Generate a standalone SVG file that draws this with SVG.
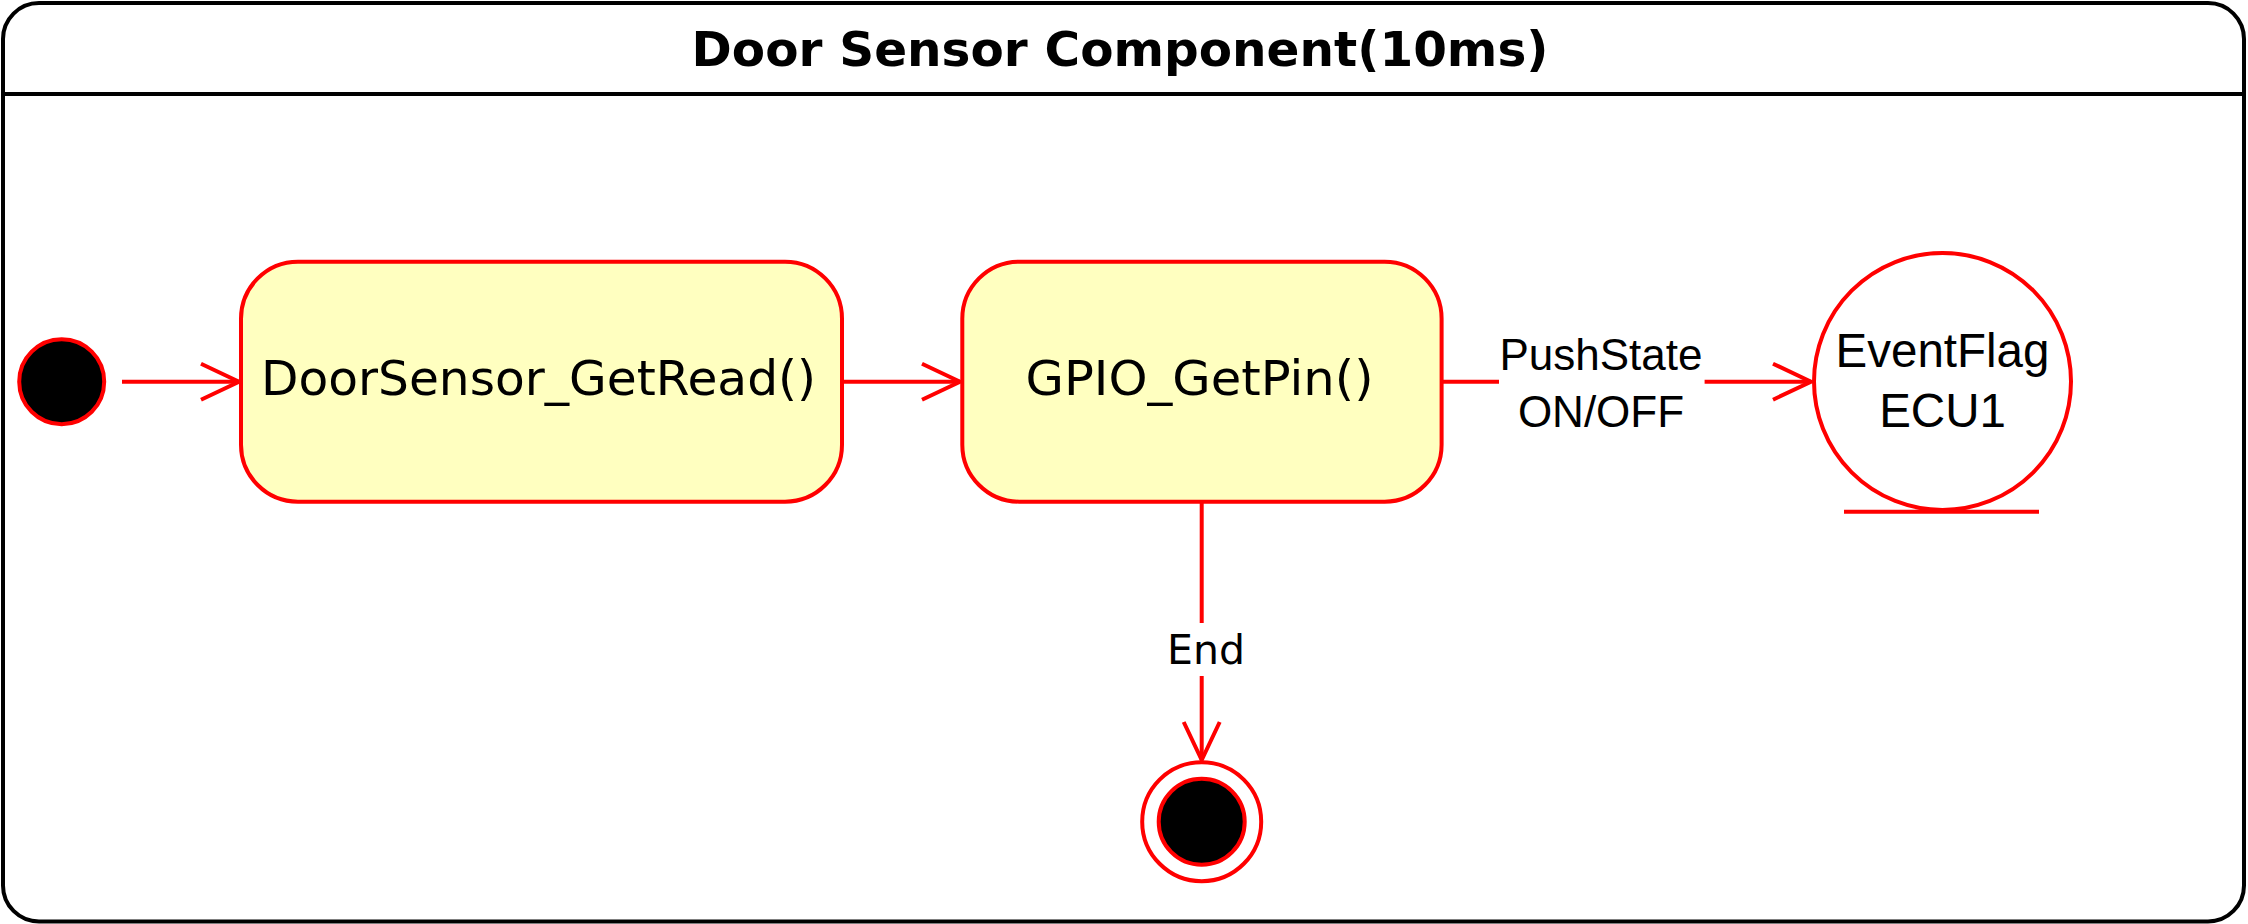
<svg xmlns="http://www.w3.org/2000/svg" width="2248" height="924" viewBox="0 0 2248 924">
<defs>
<style>
.frame{fill:#ffffff;stroke:#000000;stroke-width:4}
.state{fill:#FFFFC0;stroke:#FF0000;stroke-width:4}
.red{stroke:#FF0000;stroke-width:4;fill:none}
.dot{fill:#000000;stroke:#FF0000;stroke-width:4}
.ring{fill:#ffffff;stroke:#FF0000;stroke-width:4}
.title{font-family:"DejaVu Sans",Verdana,sans-serif;font-weight:bold;font-size:48.5px;fill:#000;text-anchor:middle}
.lbl{font-family:"DejaVu Sans",Verdana,sans-serif;font-size:48px;fill:#000;text-anchor:middle}
.elbl{font-family:"DejaVu Sans",Verdana,sans-serif;font-size:41px;fill:#000;text-anchor:middle}
.alb{font-family:"Liberation Sans",Arial,sans-serif;font-size:44px;fill:#000;text-anchor:middle}
.flb{font-family:"Liberation Sans",Arial,sans-serif;font-size:47.5px;fill:#000;text-anchor:middle}
</style>
<marker id="open" markerUnits="userSpaceOnUse" viewBox="-42 -22 46 44" refX="0" refY="0" markerWidth="46" markerHeight="44" orient="auto" overflow="visible">
<path d="M-38,-18 L0,0 L-38,18" fill="none" stroke="#FF0000" stroke-width="4"/>
</marker>
</defs>
<g id="frame">
<rect class="frame" x="3" y="3" width="2241" height="918.5" rx="36" ry="36"/>
<line x1="3" y1="94" x2="2244" y2="94" stroke="#000" stroke-width="4"/>
<text class="title" x="1120" y="66">Door Sensor Component(10ms)</text>
</g>
<g id="connectors">
<line class="red" x1="122" y1="381.7" x2="239" y2="381.7" marker-end="url(#open)"/>
<line class="red" x1="842" y1="381.7" x2="960" y2="381.7" marker-end="url(#open)"/>
<line class="red" x1="1441.6" y1="381.7" x2="1499" y2="381.7"/>
<line class="red" x1="1704.6" y1="381.7" x2="1811" y2="381.7" marker-end="url(#open)"/>
<text class="alb" x="1601" y="370">PushState</text>
<text class="alb" x="1601" y="426.7">ON/OFF</text>
<line class="red" x1="1201.7" y1="501.7" x2="1201.7" y2="623"/>
<line class="red" x1="1201.7" y1="676" x2="1201.7" y2="760" marker-end="url(#open)"/>
<text class="elbl" x="1206" y="664">End</text>
</g>
<g id="initial">
<circle class="dot" cx="61.7" cy="381.7" r="42.5"/>
</g>
<g id="getread">
<rect class="state" x="241" y="261.7" width="601" height="240" rx="57" ry="57"/>
<text class="lbl" x="538.5" y="395" textLength="555" lengthAdjust="spacingAndGlyphs">DoorSensor_GetRead()</text>
</g>
<g id="getpin">
<rect class="state" x="962.3" y="261.7" width="479.3" height="240" rx="57" ry="57"/>
<text class="lbl" x="1199.5" y="395" textLength="348" lengthAdjust="spacingAndGlyphs">GPIO_GetPin()</text>
</g>
<g id="eventflag">
<circle class="ring" cx="1942.5" cy="381.5" r="128.5"/>
<line class="red" x1="1844" y1="511.7" x2="2039" y2="511.7"/>
<text class="flb" x="1942.5" y="366.7">EventFlag</text>
<text class="flb" x="1942.5" y="426.7">ECU1</text>
</g>
<g id="final">
<circle class="ring" cx="1201.7" cy="821.7" r="59.5"/>
<circle class="dot" cx="1201.7" cy="821.7" r="43"/>
</g>
</svg>
